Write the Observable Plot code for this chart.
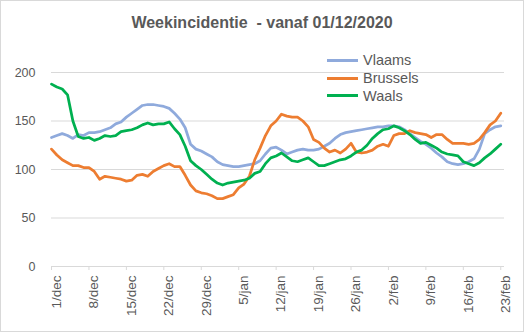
<!DOCTYPE html>
<html>
<head>
<meta charset="utf-8">
<script src="https://cdn.jsdelivr.net/npm/d3@7"></script>
<script src="https://cdn.jsdelivr.net/npm/@observablehq/plot@0.6"></script>
<style>
  html, body { margin: 0; padding: 0; background: #fff; }
  #wrap { position: relative; width: 524px; height: 332px; overflow: hidden; font-family: "Liberation Sans", Arial, sans-serif; }
  #chart { position: absolute; left: 0; top: 0; }
  #border { position: absolute; left: 0; top: 0; width: 524px; height: 332px; box-sizing: border-box; border: 1px solid #d9d9d9; pointer-events: none; }
  #title { position: absolute; left: 0; top: 14px; width: 524px; text-align: center; font-weight: bold; font-size: 16px; color: #595959; white-space: pre; }
  .leg { position: absolute; left: 327px; height: 18px; display: flex; align-items: center; font-size: 14.5px; color: #595959; }
  .leg span.sw { display: inline-block; width: 31px; height: 3px; margin-right: 5px; }
</style>
</head>
<body>
<div id="wrap">
  <div id="chart"></div>
  <div id="title"></div>
  <div id="legend"></div>
  <div id="border"></div>
</div>
<script>
const title = "Weekincidentie  - vanaf 01/12/2020";
const tickLabels = ["1/dec","8/dec","15/dec","22/dec","29/dec","5/jan","12/jan","19/jan","26/jan","2/feb","9/feb","16/feb","23/feb"];
const seriesNames = ["Vlaams", "Brussels", "Waals"];
const seriesColors = ["#8FAADC", "#ED7D31", "#00B050"];

// daily values, 1 Dec 2020 .. 23 Feb 2021
const vlaams = [
  133,135,137,135,132,136,135,138,138,139,
  141,143,147,149,154,158,162,166,167,167,
  166,165,163,158,152,143,126,121,119,116,
  113,108,105,104,103,103,104,105,106,109,
  116,122,123,120,116,118,120,121,120,120,
  121,124,127,132,136,138,139,140,141,142,
  143,144,144,145,145,144,141,137,133,129,
  126,122,117,113,108,106,105,106,108,111,
  121,137,141,144,145
];
const brussels = [
  121,115,110,107,104,104,102,102,98,90,
  93,92,91,90,88,89,94,95,93,98,
  101,104,106,103,103,94,84,78,76,75,
  73,70,70,72,74,81,85,93,110,122,
  135,145,150,157,155,154,154,150,144,131,
  128,122,118,120,117,121,127,118,117,118,
  120,124,126,124,135,137,137,140,138,137,
  136,133,136,136,131,127,127,127,126,127,
  131,138,146,150,158
];
const waals = [
  188,185,183,177,150,134,132,133,130,132,
  135,134,135,139,140,141,143,146,148,146,
  147,147,149,142,136,124,109,104,100,95,
  90,86,84,86,87,88,89,91,96,98,
  106,112,114,117,113,109,108,110,112,108,
  104,104,106,108,110,111,114,118,120,125,
  132,137,141,142,145,143,140,136,131,127,
  128,125,122,118,116,115,114,108,106,104,
  107,112,116,121,126
];
const yTicks = [0, 50, 100, 150, 200];

const seriesValues = [vlaams, brussels, waals];
const data = seriesNames.flatMap((name, k) => seriesValues[k].map((v, i) => ({day: i, value: v, series: name})));
const tickDays = tickLabels.map((_, i) => i * 7);

const chart = Plot.plot({
  width: 524,
  height: 332,
  marginLeft: 51,
  marginRight: 20,
  marginTop: 72,
  marginBottom: 66,
  style: {fontFamily: "Liberation Sans, Arial, sans-serif", color: "#595959", background: "transparent"},
  x: {domain: [0, 84.7]},
  y: {domain: [0, 200]},
  color: {domain: seriesNames, range: seriesColors},
  marks: [
    Plot.gridY(yTicks.filter(d => d > 0), {stroke: "#d9d9d9", strokeOpacity: 1, strokeWidth: 1}),
    Plot.ruleY([0], {stroke: "#d9d9d9", strokeWidth: 1}),
    Plot.axisY({ticks: yTicks, tickSize: 0, tickPadding: 16, fontSize: 12.5, label: null, fill: "#595959"}),
    Plot.axisX({ticks: tickDays, tickSize: 4, stroke: "#d9d9d9", text: null, label: null}),
    Plot.axisX({ticks: tickDays, tickFormat: d => tickLabels[d / 7], tickRotate: -90, tickSize: 0, tickPadding: 9, dx: 5, fontSize: 13.5, label: null, fill: "#595959"}),
    Plot.line(data, {x: "day", y: "value", z: "series", stroke: "series", strokeWidth: 2.75, strokeLinejoin: "round", strokeLinecap: "round"})
  ]
});
document.getElementById("chart").appendChild(chart);
document.getElementById("title").textContent = title;

const legend = document.getElementById("legend");
const legendTops = [51, 69, 86.5];
seriesNames.forEach((name, i) => {
  const row = document.createElement("div");
  row.className = "leg";
  row.style.top = legendTops[i] + "px";
  const sw = document.createElement("span");
  sw.className = "sw";
  sw.style.background = seriesColors[i];
  row.appendChild(sw);
  row.appendChild(document.createTextNode(name));
  legend.appendChild(row);
});
</script>
</body>
</html>
